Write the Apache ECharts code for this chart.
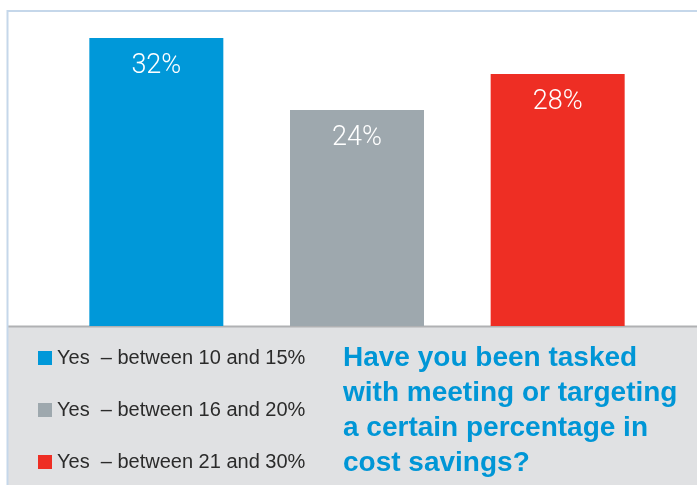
<!DOCTYPE html>
<html>
<head>
<meta charset="utf-8">
<script src="https://cdn.jsdelivr.net/npm/echarts@6/dist/echarts.min.js"></script>
<style>
  html, body { margin: 0; padding: 0; background: #fff; }
  #chart { width: 697px; height: 485px; }
</style>
</head>
<body>
<div id="chart"></div>
<script>
  // data
  var categories = ['Yes  \u2013 between 10 and 15%', 'Yes  \u2013 between 16 and 20%', 'Yes  \u2013 between 21 and 30%'];
  var values = [32, 24, 28];
  var colors = ['#0098d9', '#9ea8ae', '#ee2e24'];
  var question = 'Have you been tasked\nwith meeting or targeting\na certain percentage in\ncost savings?';

  var chart = echarts.init(document.getElementById('chart'));

  // one series per answer so the legend picks up every colour
  var series = categories.map(function (name, i) {
    var data = values.map(function (v, j) { return j === i ? v : '-'; });
    return {
      name: name,
      type: 'bar',
      data: data,
      barWidth: 134,
      barGap: '-100%',
      itemStyle: {color: colors[i]},
      label: {
        show: true,
        position: 'insideTop',
        distance: 15,
        formatter: '{c}%',
        color: '#fff',
        fontSize: 27,
        fontWeight: 300,
        fontFamily: 'Roboto'
      },
      silent: true
    };
  });

  chart.setOption({
    animation: false,
    grid: {left: 56, right: 39, top: 11, bottom: 159},
    xAxis: {
      type: 'category',
      data: categories,
      show: false
    },
    yAxis: {
      type: 'value',
      min: 0,
      max: 35,
      show: false
    },
    legend: {
      orient: 'vertical',
      left: 38,
      top: 348,
      height: 200,
      padding: 0,
      icon: 'rect',
      itemWidth: 14,
      itemHeight: 14,
      itemGap: 32,
      selectedMode: false,
      textStyle: {
        color: '#2b2b2b',
        fontSize: 20,
        fontFamily: 'Liberation Sans',
        padding: [0, 0, 0, 0]
      }
    },
    title: {
      text: question,
      left: 343,
      top: 341,
      padding: 0,
      textStyle: {
        color: '#0096d6',
        fontSize: 28,
        fontWeight: 'bold',
        fontFamily: 'Liberation Sans',
        lineHeight: 35
      }
    },
    graphic: [
      {
        type: 'rect',
        z: -10,
        shape: {x: 7, y: 326, width: 690, height: 159},
        style: {fill: '#e0e1e3'}
      },
      {
        type: 'line',
        z: -5,
        shape: {x1: 7, y1: 326.5, x2: 697, y2: 326.5},
        style: {stroke: '#b0b1b3', lineWidth: 2}
      },
      {
        type: 'line',
        z: -5,
        shape: {x1: 7, y1: 11, x2: 697, y2: 11},
        style: {stroke: '#c5d7ea', lineWidth: 2}
      },
      {
        type: 'line',
        z: -5,
        shape: {x1: 7.5, y1: 10, x2: 7.5, y2: 485},
        style: {stroke: '#c5d7ea', lineWidth: 2}
      }
    ],
    series: series
  });
</script>
</body>
</html>
